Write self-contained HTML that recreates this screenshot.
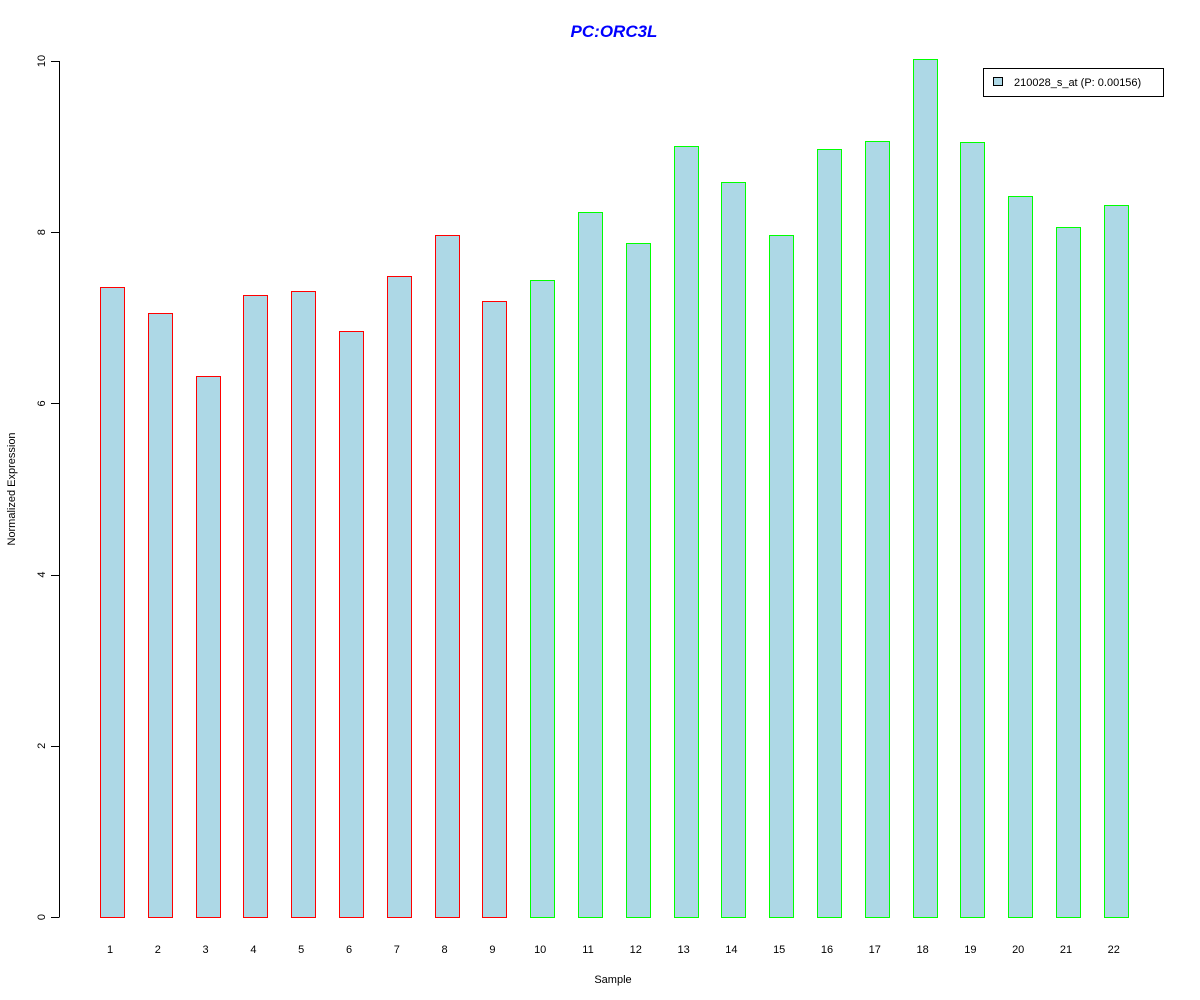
<!DOCTYPE html>
<html><head><meta charset="utf-8"><style>body{margin:0;background:#fff}svg{display:block;font-family:"Liberation Sans",Arial,sans-serif}</style></head>
<body>
<svg id="chart" width="1200" height="1000">
<text x="614" y="37" text-anchor="middle" font-size="17" font-weight="bold" font-style="italic" fill="#0000ff">PC:ORC3L</text>
<text x="613" y="983" text-anchor="middle" font-size="11">Sample</text>
<text transform="translate(15,489) rotate(-90)" text-anchor="middle" font-size="11">Normalized Expression</text>
<g id="yaxis" shape-rendering="crispEdges"></g>
<g id="bars" shape-rendering="crispEdges"></g>
<g id="xlabels"></g>
<g shape-rendering="crispEdges">
<rect x="983.5" y="68.5" width="180" height="28" fill="#fff" stroke="#000"/>
<rect x="993.5" y="77.5" width="9" height="8" fill="#add8e6" stroke="#000"/>
<text x="1014" y="86" font-size="11">210028_s_at (P: 0.00156)</text>
</g>
</svg>
<script>
const categories=["1","2","3","4","5","6","7","8","9","10","11","12","13","14","15","16","17","18","19","20","21","22"];
const values=[7.36,7.06,6.32,7.27,7.31,6.85,7.49,7.97,7.20,7.44,8.24,7.87,9.01,8.59,7.97,8.97,9.07,10.02,9.05,8.42,8.06,8.32];
const groups=["red","red","red","red","red","red","red","red","red","green","green","green","green","green","green","green","green","green","green","green","green","green"];
const yTicks=[0,2,4,6,8,10];
const NS="http://www.w3.org/2000/svg";
const y=v=>917-v*85.6;
const x=i=>112+i*47.8;
const bw=24;
const ya=document.getElementById('yaxis');
let l=document.createElementNS(NS,'line');
l.setAttribute('x1',59.5);l.setAttribute('x2',59.5);l.setAttribute('y1',y(0));l.setAttribute('y2',y(10));l.setAttribute('stroke','#000');


ya.appendChild(l);
yTicks.forEach(t=>{
 const tk=document.createElementNS(NS,'line');
 tk.setAttribute('x1',51);tk.setAttribute('x2',59.5);tk.setAttribute('y1',Math.round(y(t))+0.5);tk.setAttribute('y2',Math.round(y(t))+0.5);tk.setAttribute('stroke','#000');
 
 
 ya.appendChild(tk);
 const tx=document.createElementNS(NS,'text');
 tx.setAttribute('transform',`translate(45,${y(t)}) rotate(-90)`);tx.setAttribute('text-anchor','middle');tx.setAttribute('font-size','11');
 tx.textContent=t;
 
 
 ya.appendChild(tx);
});
const bg=document.getElementById('bars'),xl=document.getElementById('xlabels');
values.forEach((v,i)=>{
 const r=document.createElementNS(NS,'rect');
 r.setAttribute('x',Math.round(x(i)-bw/2)+0.5);r.setAttribute('y',Math.round(y(v))+0.5);r.setAttribute('width',bw);r.setAttribute('height',Math.round(y(0))-Math.round(y(v)));
 r.setAttribute('fill','#add8e6');r.setAttribute('stroke',groups[i]==='red'?'#ff0000':'#00ff00');
 
 
 bg.appendChild(r);
 const t=document.createElementNS(NS,'text');
 t.setAttribute('x',x(i)-2);t.setAttribute('y',953);t.setAttribute('text-anchor','middle');t.setAttribute('font-size','11');
 t.textContent=categories[i];
 
 
 xl.appendChild(t);
});
</script>
</body></html>
